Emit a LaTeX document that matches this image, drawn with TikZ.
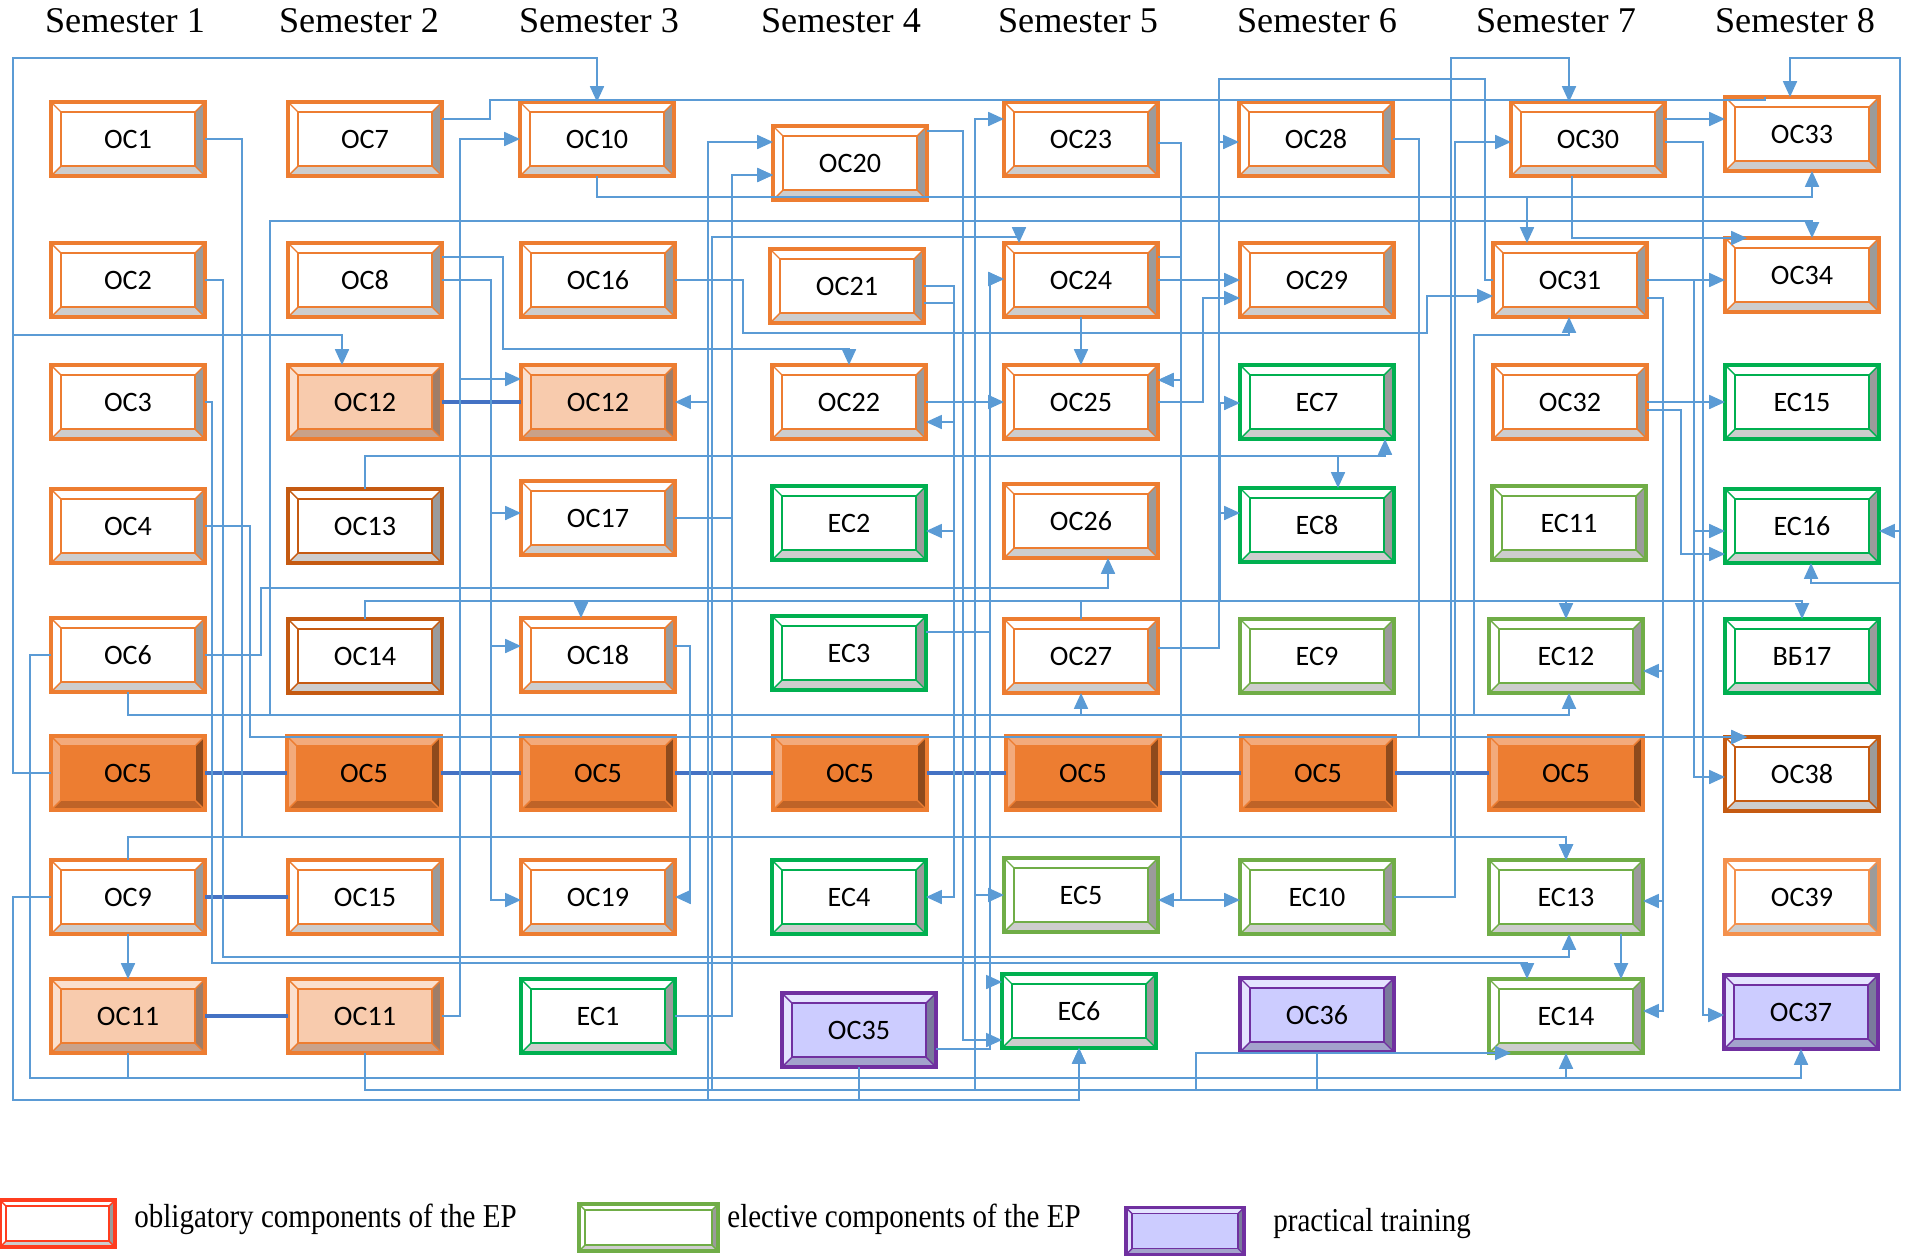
\documentclass[tikz,border=0pt]{standalone}
\usepackage{graphicx}
\usepackage{fontspec}
\setmainfont{Liberation Serif}
\newfontfamily\boxfamily{Carlito}
\usetikzlibrary{arrows.meta,calc}

\definecolor{lnk}{HTML}{5B9BD5}
\definecolor{lnkd}{HTML}{4472C4}
% edge, fill, light bevel, right bevel, bottom bevel
\newcommand{\boxcolors}[6]{%
  \definecolor{#1edge}{HTML}{#2}\definecolor{#1fill}{HTML}{#3}%
  \definecolor{#1light}{HTML}{#4}\definecolor{#1right}{HTML}{#5}%
  \definecolor{#1bottom}{HTML}{#6}}
\boxcolors{obl}{ED7D31}{FFFFFF}{FFFFFF}{9B9B9B}{CDCDCD}
\boxcolors{obld}{C55A11}{FFFFFF}{FFFFFF}{9B9B9B}{CDCDCD}
\boxcolors{obll}{F4914D}{FFFFFF}{FFFFFF}{9B9B9B}{CDCDCD}
\boxcolors{oblp}{ED7D31}{F8CBAD}{FBDFCD}{9E7D68}{C9A189}
\boxcolors{ocf}{ED7D31}{ED7D31}{F3AA7B}{8E4A1C}{BF6327}
\boxcolors{ele}{00B050}{FFFFFF}{FFFFFF}{9B9B9B}{CDCDCD}
\boxcolors{elel}{70AD47}{FFFFFF}{FFFFFF}{9B9B9B}{CDCDCD}
\boxcolors{prc}{7030A0}{CCCCFF}{E4E4FF}{7A7A9C}{A3A3CC}
\boxcolors{leg}{FF3D1F}{FFFFFF}{FFFFFF}{9B9B9B}{CDCDCD}

\tikzstyle{link}=[draw=lnk,line width=0.85pt]
\tikzstyle{arr}=[link,-{Triangle[length=9pt,width=8pt]}]
\tikzstyle{thk}=[draw=lnkd,line width=1.9pt]
\tikzstyle{boxtext}=[rectangle,inner sep=0pt,outer sep=0pt,font=\boxfamily\fontsize{16}{19}\selectfont]
\tikzstyle{sem}=[anchor=base,inner sep=0pt,font=\fontsize{20.6}{24}\selectfont]
\tikzstyle{legtext}=[anchor=base west,inner sep=0pt,font=\fontsize{19}{22}\selectfont]

\def\bw{77}\def\bh{37}\def\bi{10}
\newcommand{\drawBox}[5]{
\pgfmathsetmacro{\iw}{\bw-\bi}
\pgfmathsetmacro{\ih}{\bh-\bi}
\begin{scope}[shift={(#3,#4)}]
  \fill[#1light] (-\bw,-\bh) rectangle (\bw,\bh);
  \fill[#1right] (\bw,-\bh) -- (\bw,\bh) -- (\iw,\ih) -- (\iw,-\ih) -- cycle;
  \fill[#1bottom] (-\bw,\bh) -- (\bw,\bh) -- (\iw,\ih) -- (-\iw,\ih) -- cycle;
  \draw[#1edge,line width=1.1pt,fill=#1fill] (-\iw,-\ih) rectangle (\iw,\ih);
  \draw[#1edge,line width=0.8pt] (-\bw,-\bh) -- (-\iw,-\ih) (\bw,-\bh) -- (\iw,-\ih)
     (-\bw,\bh) -- (-\iw,\ih) (\bw,\bh) -- (\iw,\ih);
  \draw[#1edge,line width=1.8pt] (-\bw,-\bh) rectangle (\bw,\bh);
\end{scope}
\node[boxtext,minimum width={2*\bw*0.02cm},minimum height={2*\bh*0.02cm}] (#2) at (#3,#4) {#5};
}

\begin{document}
\begin{tikzpicture}[x=0.02cm,y=-0.02cm]
\useasboundingbox (0,0) rectangle (1906,1255);
\foreach \s/\x in {1/125,2/359,3/599,4/841,5/1078,6/1317,7/1556,8/1795}
  \node[sem] (sem\s) at (\x,32) {Semester \s};

% semester 1
\drawBox{obl}{oc1}{128}{139}{OC1}
\drawBox{obl}{oc2}{128}{280}{OC2}
\drawBox{obl}{oc3}{128}{402}{OC3}
\drawBox{obl}{oc4}{128}{526}{OC4}
\drawBox{obl}{oc6}{128}{655}{OC6}
\drawBox{ocf}{oc5a}{128}{773}{OC5}
\drawBox{obl}{oc9}{128}{897}{OC9}
\drawBox{oblp}{oc11a}{128}{1016}{OC11}
% semester 2
\drawBox{obl}{oc7}{365}{139}{OC7}
\drawBox{obl}{oc8}{365}{280}{OC8}
\drawBox{oblp}{oc12a}{365}{402}{OC12}
\drawBox{obld}{oc13}{365}{526}{OC13}
\drawBox{obld}{oc14}{365}{656}{OC14}
\drawBox{ocf}{oc5b}{364}{773}{OC5}
\drawBox{obl}{oc15}{365}{897}{OC15}
\drawBox{oblp}{oc11b}{365}{1016}{OC11}
% semester 3
\drawBox{obl}{oc10}{597}{139}{OC10}
\drawBox{obl}{oc16}{598}{280}{OC16}
\drawBox{oblp}{oc12b}{598}{402}{OC12}
\drawBox{obl}{oc17}{598}{518}{OC17}
\drawBox{obl}{oc18}{598}{655}{OC18}
\drawBox{ocf}{oc5c}{598}{773}{OC5}
\drawBox{obl}{oc19}{598}{897}{OC19}
\drawBox{ele}{ec1}{598}{1016}{EC1}
% semester 4
\drawBox{obl}{oc20}{850}{163}{OC20}
\drawBox{obl}{oc21}{847}{286}{OC21}
\drawBox{obl}{oc22}{849}{402}{OC22}
\drawBox{ele}{ec2}{849}{523}{EC2}
\drawBox{ele}{ec3}{849}{653}{EC3}
\drawBox{ocf}{oc5d}{850}{773}{OC5}
\drawBox{ele}{ec4}{849}{897}{EC4}
\drawBox{prc}{oc35}{859}{1030}{OC35}
% semester 5
\drawBox{obl}{oc23}{1081}{139}{OC23}
\drawBox{obl}{oc24}{1081}{280}{OC24}
\drawBox{obl}{oc25}{1081}{402}{OC25}
\drawBox{obl}{oc26}{1081}{521}{OC26}
\drawBox{obl}{oc27}{1081}{656}{OC27}
\drawBox{ocf}{oc5e}{1083}{773}{OC5}
\drawBox{elel}{ec5}{1081}{895}{EC5}
\drawBox{ele}{ec6}{1079}{1011}{EC6}
% semester 6
\drawBox{obl}{oc28}{1316}{139}{OC28}
\drawBox{obl}{oc29}{1317}{280}{OC29}
\drawBox{ele}{ec7}{1317}{402}{EC7}
\drawBox{ele}{ec8}{1317}{525}{EC8}
\drawBox{elel}{ec9}{1317}{656}{EC9}
\drawBox{ocf}{oc5f}{1318}{773}{OC5}
\drawBox{elel}{ec10}{1317}{897}{EC10}
\drawBox{prc}{oc36}{1317}{1015}{OC36}
% semester 7
\drawBox{obl}{oc30}{1588}{139}{OC30}
\drawBox{obl}{oc31}{1570}{280}{OC31}
\drawBox{obl}{oc32}{1570}{402}{OC32}
\drawBox{elel}{ec11}{1569}{523}{EC11}
\drawBox{elel}{ec12}{1566}{656}{EC12}
\drawBox{ocf}{oc5g}{1566}{773}{OC5}
\drawBox{elel}{ec13}{1566}{897}{EC13}
\drawBox{elel}{ec14}{1566}{1016}{EC14}
% semester 8
\drawBox{obl}{oc33}{1802}{134}{OC33}
\drawBox{obl}{oc34}{1802}{275}{OC34}
\drawBox{ele}{ec15}{1802}{402}{EC15}
\drawBox{ele}{ec16}{1802}{526}{EC16}
\drawBox{ele}{vb17}{1802}{656}{ВБ17}
\drawBox{obld}{oc38}{1802}{774}{OC38}
\drawBox{obll}{oc39}{1802}{897}{OC39}
\drawBox{prc}{oc37}{1801}{1012}{OC37}

% same course over several semesters
\draw[thk] (oc5a.east) -- (oc5b.west) (oc5b.east) -- (oc5c.west) (oc5c.east) -- (oc5d.west)
  (oc5d.east) -- (oc5e.west) (oc5e.east) -- (oc5f.west) (oc5f.east) -- (oc5g.west);
\draw[thk] (oc12a.east) -- (oc12b.west);
\draw[thk] (oc9.east) -- (oc15.west);
\draw[thk] (oc11a.east) -- (oc11b.west);

% prerequisites
\draw[arr] (oc5a.west) -| (13,58) -| (oc10.north);
\draw[arr] (oc5a.west) -| (13,335) -| (oc12a.north -| 342,0);
\draw[arr] (oc9.west) -| (13,1100) -| (ec6.south);
\draw[arr] (oc9.west) -| (13,1100) -| (708,402) -- (oc12b.east);
\draw[arr] (oc9.west) -| (13,1100) -| (708,142) -- (oc20.west |- 0,142);
\draw[arr] (oc35.south) |- (ec6.south |- 0,1100) -- (ec6.south);
\draw[arr] (oc6.west) -| (30,1078) -| (ec14.south);
\draw[arr] (oc11a.south) |- (oc37.south |- 0,1078) -- (oc37.south);
\draw[arr] (oc9.north) |- (ec13.north |- 0,837) -- (ec13.north);
\draw[arr] (oc1.east) -| (242,837) -| (ec13.north);
\draw[arr] (oc9.south) -- (oc11a.north);
\draw[arr] (oc9.north) |- (1451,837) |- (1569,58) -- (oc30.north -| 1569,0);
\draw[arr] (oc11b.east) -| (460,139) -- (oc10.west);
\draw[arr] (oc11b.east) -| (460,379) -- (oc12b.west |- 0,379);
\draw[arr] (oc8.east |- 0,257) -| (503,349) -| (oc22.north);
\draw[arr] (oc8.east) -| (491,513) -- (oc17.west |- 0,513);
\draw[arr] (oc8.east) -| (491,646) -- (oc18.west |- 0,646);
\draw[arr] (oc8.east) -| (491,900) -- (oc19.west |- 0,900);
\draw[arr] (oc18.east |- 0,646) -| (690,897) -- (oc19.east);
\draw[arr] (oc17.east) -| (732,175) -- (oc20.west |- 0,175);
\draw[arr] (ec1.east) -| (732,175) -- (oc20.west |- 0,175);
\draw[link] (oc7.east |- 0,119) -| (490,100) -| (oc33.north -| 1765,0);
\draw[arr] (oc11b.south) |- (712,1090) |- (1019,237) -- (oc24.north -| 1019,0);
\draw[arr] (oc11b.south) |- (975,1090) |- (oc23.west |- 0,119);
\draw[arr] (oc11b.south) |- (975,1090) |- (ec5.west);
\draw[arr] (oc11b.south) |- (1900,1090) |- (1811,583) -- (ec16.south -| 1811,0);
\draw[arr] (oc11b.south) |- (1900,1090) |- (ec16.east |- 0,531);
\draw[arr] (oc11b.south) |- (1900,1090) |- (1790,58) -- (oc33.north -| 1790,0);
\draw[arr] (oc21.east) -| (954,422) -- (oc22.east |- 0,422);
\draw[arr] (oc21.east |- 0,303) -| (954,531) -- (ec2.east |- 0,531);
\draw[arr] (oc21.east |- 0,303) -| (954,897) -- (ec4.east);
\draw[arr] (oc22.east) -- (oc25.west);
\draw[arr] (oc35.east |- 0,1049) -| (990,279) -- (oc24.west |- 0,279);
\draw[arr] (oc35.east |- 0,1049) -| (990,982) -- (ec6.west |- 0,982);
\draw[arr] (ec3.east |- 0,632) -| (990,279) -- (oc24.west |- 0,279);
\draw[arr] (oc20.east |- 0,131) -| (963,1040) -- (ec6.west |- 0,1040);
\draw[arr] (oc24.south) -- (oc25.north);
\draw[arr] (oc23.east |- 0,143) -| (1181,380) -- (oc25.east |- 0,380);
\draw[arr] (oc24.east |- 0,257) -| (1181,380) -- (oc25.east |- 0,380);
\draw[arr] (oc23.east |- 0,143) -| (1181,900) -- (ec5.east |- 0,900);
\draw[arr] (oc23.east |- 0,143) -| (1181,900) -- (ec10.west |- 0,900);
\draw[arr] (oc24.east) -- (oc29.west);
\draw[arr] (oc25.east) -| (1203,298) -- (oc29.west |- 0,298);
\draw[arr] (oc16.east) -| (743,333) -| (1427,296) -- (oc31.west |- 0,296);
\draw[arr] (oc27.east |- 0,648) -| (1219,142) -- (oc28.west |- 0,142);
\draw[link] (oc27.east |- 0,648) -| (1219,79) -| (1485,280) -- (oc31.west);
\draw[arr] (oc14.north) |- (1220,601) |- (ec7.west |- 0,403);
\draw[arr] (oc27.north) |- (1220,601) |- (ec8.west |- 0,513);
\draw[arr] (oc14.north) |- (581,601) -- (oc18.north -| 581,0);
\draw[arr] (oc14.north) |- (ec12.north |- 0,601) -- (ec12.north);
\draw[arr] (oc14.north) |- (vb17.north |- 0,601) -- (vb17.north);
\draw[arr] (oc13.north) |- (1338,456) -- (ec8.north -| 1338,0);
\draw[arr] (oc13.north) |- (1385,456) -- (ec7.south -| 1385,0);
\draw[arr] (oc6.east) -| (261,588) -| (oc26.south -| 1108,0);
\draw[arr] (oc6.south) |- (oc27.south |- 0,715) -- (oc27.south);
\draw[arr] (oc6.south) |- (270,715) |- (1812,221) -- (oc34.north -| 1812,0);
\draw[arr] (oc6.south) |- (1474,715) |- (1569,335) -- (oc31.south -| 1569,0);
\draw[arr] (oc6.south) |- (1569,715) -- (ec12.south -| 1569,0);
\draw[arr] (oc10.south) |- (1527,197) -- (oc31.north -| 1527,0);
\draw[arr] (oc10.south) |- (1812,197) -- (oc33.south -| 1812,0);
\draw[arr] (oc30.east |- 0,119) -- (oc33.west |- 0,119);
\draw[arr] (oc30.south -| 1572,0) |- ($(oc34.north west)+(22,0)$);
\draw[arr] (oc31.east) -- (oc34.west |- oc31.east);
\draw[arr] (oc32.east) -- (ec15.west);
\draw[arr] (ec10.east) -| (1455,142) -- (oc30.west |- 0,142);
\draw[arr] (oc31.east |- 0,298) -| (1663,671) -- (ec12.east |- 0,671);
\draw[arr] (oc31.east |- 0,298) -| (1663,901) -- (ec13.east |- 0,901);
\draw[arr] (oc31.east |- 0,298) -| (1663,1011) -- (ec14.east |- 0,1011);
\draw[arr] (ec13.south -| 1621,0) -- (ec14.north -| 1621,0);
\draw[arr] (oc2.east) -| (223,957) -| (ec13.south -| 1569,0);
\draw[arr] (oc3.east) -| (212,963) -| (ec14.north -| 1527,0);
\draw[arr] (oc36.south) |- (1196,1090) |- ($(ec14.south west)+(22,0)$);
\draw[arr] (oc4.east) -| (250,737) -- ($(oc38.north west)+(22,0)$);
\draw[arr] (oc28.east) -| (1419,737) -- ($(oc38.north west)+(22,0)$);
\draw[arr] (oc31.east) -| (1694,777) -- (oc38.west |- 0,777);
\draw[arr] (oc31.east) -| (1694,531) -- (ec16.west |- 0,531);
\draw[arr] (oc32.east |- 0,410) -| (1681,554) -- (ec16.west |- 0,554);
\draw[arr] (oc30.east |- 0,142) -| (1703,1015) -- (oc37.west |- 0,1015);

% legend
{\def\bw{57.5}\def\bh{23.5}\def\bi{6}
\drawBox{leg}{leg1}{57.5}{1223.5}{}
\def\bw{69.5}\drawBox{elel}{leg2}{648.5}{1227.5}{}
\def\bw{59}\drawBox{prc}{leg3}{1185}{1231}{}}
\node[legtext] (lt1) at (134,1227) {\scalebox{0.87}[1]{obligatory components of the EP}};
\node[legtext] (lt2) at (727,1227) {\scalebox{0.87}[1]{elective components of the EP}};
\node[legtext] (lt3) at (1273,1231) {\scalebox{0.87}[1]{practical training}};
\end{tikzpicture}
\end{document}
